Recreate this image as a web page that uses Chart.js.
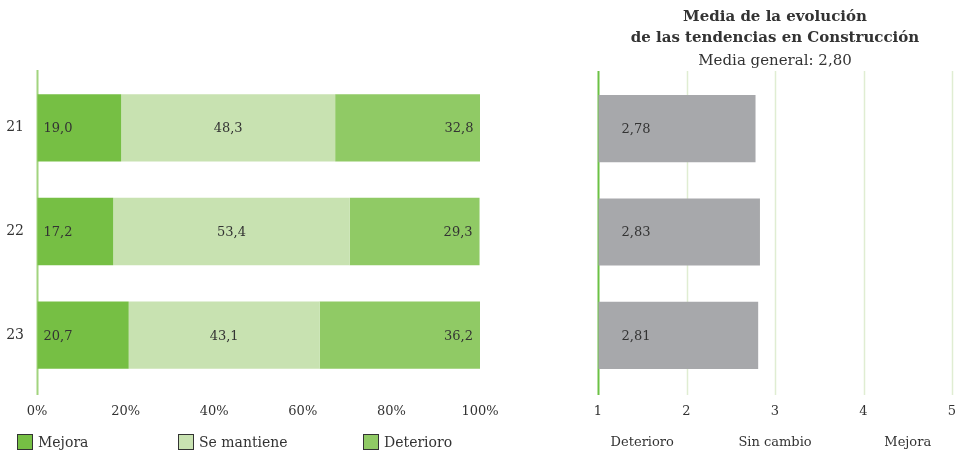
<!DOCTYPE html>
<html>
<head>
<meta charset="utf-8">
<script src="https://cdn.jsdelivr.net/npm/chart.js@4"></script>
<style>
  body { margin: 0; background: #fff; font-family: 'DejaVu Serif', serif; color: #333; }
  #wrap { position: relative; width: 968px; height: 456px; }
  #leftBox { position: absolute; left: 0; top: 0; width: 500px; height: 456px; }
  #rightBox { position: absolute; left: 560px; top: 0; width: 408px; height: 456px; }
  .leg { position: absolute; top: 434px; display: flex; align-items: center; font-size: 14px; }
  .leg span.sw { width: 14px; height: 14px; border: 1.5px solid #333; margin-right: 5px; }
</style>
</head>
<body>
<div id="wrap">
  <div id="leftBox"><canvas id="left"></canvas></div>
  <div id="rightBox"><canvas id="right"></canvas></div>
  <div id="legend"></div>
</div>
<script>
  // data
  const years = ['21', '22', '23'];
  const seriesNames = ['Mejora', 'Se mantiene', 'Deterioro'];
  const mejora = [19.0, 17.2, 20.7];
  const seMantiene = [48.3, 53.4, 43.1];
  const deterioro = [32.8, 29.3, 36.2];
  const medias = [2.78, 2.83, 2.81];
  const seriesColors = ['#76bf44', '#c8e2b1', '#90ca65'];
  const titleLines = ['Media de la evolución', 'de las tendencias en Construcción'];
  const subtitleText = 'Media general: 2,80';
  const scaleNames = ['Deterioro', 'Sin cambio', 'Mejora'];
  const scaleNamePos = [1.5, 3, 4.5];

  const FONT = 'DejaVu Serif';
  const TXT = '#333';
  const fmt = (v, d) => v.toFixed(d).replace('.', ',');

  // html legend
  const legendX = [17, 178, 363];
  document.getElementById('legend').innerHTML = seriesNames.map((n, i) =>
    `<div class="leg" style="left:${legendX[i]}px"><span class="sw" style="background:${seriesColors[i]}"></span>${n}</div>`
  ).join('');

  // vertical lines slightly longer than the plot area
  const vLines = {
    id: 'vLines',
    beforeDatasetsDraw(chart, args, opts) {
      const { ctx, chartArea } = chart;
      const xs = chart.scales.x;
      ctx.save();
      xs.ticks.forEach((t, i) => {
        if (opts.onlyFirst && i > 0) return;
        const x = Math.round(xs.getPixelForValue(t.value)) + 0.5;
        ctx.strokeStyle = i === 0 ? opts.axisColor : opts.gridColor;
        ctx.lineWidth = i === 0 ? 2 : 1.5;
        ctx.beginPath();
        ctx.moveTo(x, chartArea.top - 6);
        ctx.lineTo(x, chartArea.bottom + 8);
        ctx.stroke();
      });
      ctx.restore();
    }
  };

  // value labels inside the bars
  const barLabels = {
    id: 'barLabels',
    afterDatasetsDraw(chart, args, opts) {
      const ctx = chart.ctx;
      ctx.save();
      ctx.font = '13px ' + FONT;
      ctx.fillStyle = TXT;
      ctx.textBaseline = 'middle';
      chart.data.datasets.forEach((ds, di) => {
        chart.getDatasetMeta(di).data.forEach((bar, j) => {
          const txt = fmt(ds.data[j], opts.decimals);
          let x, align = opts.align[di];
          if (align === 'left') x = bar.base + opts.inset[di];
          else if (align === 'right') x = bar.x - opts.inset[di];
          else x = (bar.x + bar.base) / 2;
          ctx.textAlign = align;
          ctx.fillText(txt, x, bar.y + 1);
        });
      });
      ctx.restore();
    }
  };

  // words under the 1-5 scale
  const scaleWords = {
    id: 'scaleWords',
    afterDraw(chart) {
      const ctx = chart.ctx;
      const xs = chart.scales.x;
      ctx.save();
      ctx.font = '13px ' + FONT;
      ctx.fillStyle = TXT;
      ctx.textAlign = 'center';
      ctx.textBaseline = 'middle';
      scaleNames.forEach((n, i) => ctx.fillText(n, xs.getPixelForValue(scaleNamePos[i]), 443));
      ctx.restore();
    }
  };

  // hidden tick marks give the gap between plot and labels
  const xGrid = { display: true, drawOnChartArea: false, drawTicks: true, tickLength: 17, color: 'rgba(0,0,0,0)' };

  const leftConfig = {
    type: 'bar',
    data: {
      labels: years,
      datasets: [mejora, seMantiene, deterioro].map((d, i) => ({
        label: seriesNames[i],
        data: d,
        backgroundColor: seriesColors[i],
        borderWidth: 0,
        barPercentage: 0.65,
        categoryPercentage: 1,
      })),
    },
    options: {
      indexAxis: 'y',
      responsive: true,
      maintainAspectRatio: false,
      animation: false,
      layout: { padding: { top: 76, right: 20, bottom: 29, left: 0 } },
      plugins: {
        legend: { display: false },
        tooltip: { enabled: false },
        vLines: { onlyFirst: true, axisColor: '#a2d47e', gridColor: '#e4efd8' },
        barLabels: { decimals: 1, align: ['left', 'center', 'right'], inset: [6, 0, 7] },
      },
      scales: {
        x: {
          stacked: true,
          min: 0,
          max: 100,
          ticks: { stepSize: 20, padding: 0, color: TXT, font: { family: FONT, size: 13 }, callback: v => v + '%' },
          grid: xGrid,
          border: { display: false },
          afterFit: s => { s.height = 40; },
        },
        y: {
          stacked: true,
          ticks: { padding: 13, color: TXT, font: { family: FONT, size: 14 } },
          grid: { display: false, drawTicks: false },
          border: { display: false },
          afterFit: s => { s.width = 37; },
        },
      },
    },
    plugins: [vLines, barLabels],
  };

  const rightConfig = {
    type: 'bar',
    data: {
      labels: years,
      datasets: [{
        label: 'Media',
        data: medias,
        base: 1,
        backgroundColor: '#a7a8ab',
        borderWidth: 0,
        barPercentage: 0.65,
        categoryPercentage: 1,
      }],
    },
    options: {
      indexAxis: 'y',
      responsive: true,
      maintainAspectRatio: false,
      animation: false,
      layout: { padding: { top: 7, right: 16, bottom: 29, left: 38 } },
      plugins: {
        legend: { display: false },
        tooltip: { enabled: false },
        title: {
          display: true,
          text: titleLines,
          color: TXT,
          font: { family: FONT, size: 15, weight: 'bold', lineHeight: 1.4 },
          padding: { top: 0, bottom: 0 },
        },
        subtitle: {
          display: true,
          text: subtitleText,
          color: TXT,
          font: { family: FONT, size: 15, lineHeight: 1.4 },
          padding: { top: 2, bottom: 5 },
        },
        vLines: { onlyFirst: false, axisColor: '#6cc145', gridColor: '#e0edd2' },
        barLabels: { decimals: 2, align: ['left'], inset: [23] },
      },
      scales: {
        x: {
          min: 1,
          max: 5,
          ticks: { stepSize: 1, padding: 0, color: TXT, font: { family: FONT, size: 13 } },
          grid: xGrid,
          border: { display: false },
          afterFit: s => { s.height = 40; },
        },
        y: { display: false },
      },
    },
    plugins: [vLines, barLabels, scaleWords],
  };

  new Chart(document.getElementById('left'), leftConfig);
  new Chart(document.getElementById('right'), rightConfig);
</script>
</body>
</html>
